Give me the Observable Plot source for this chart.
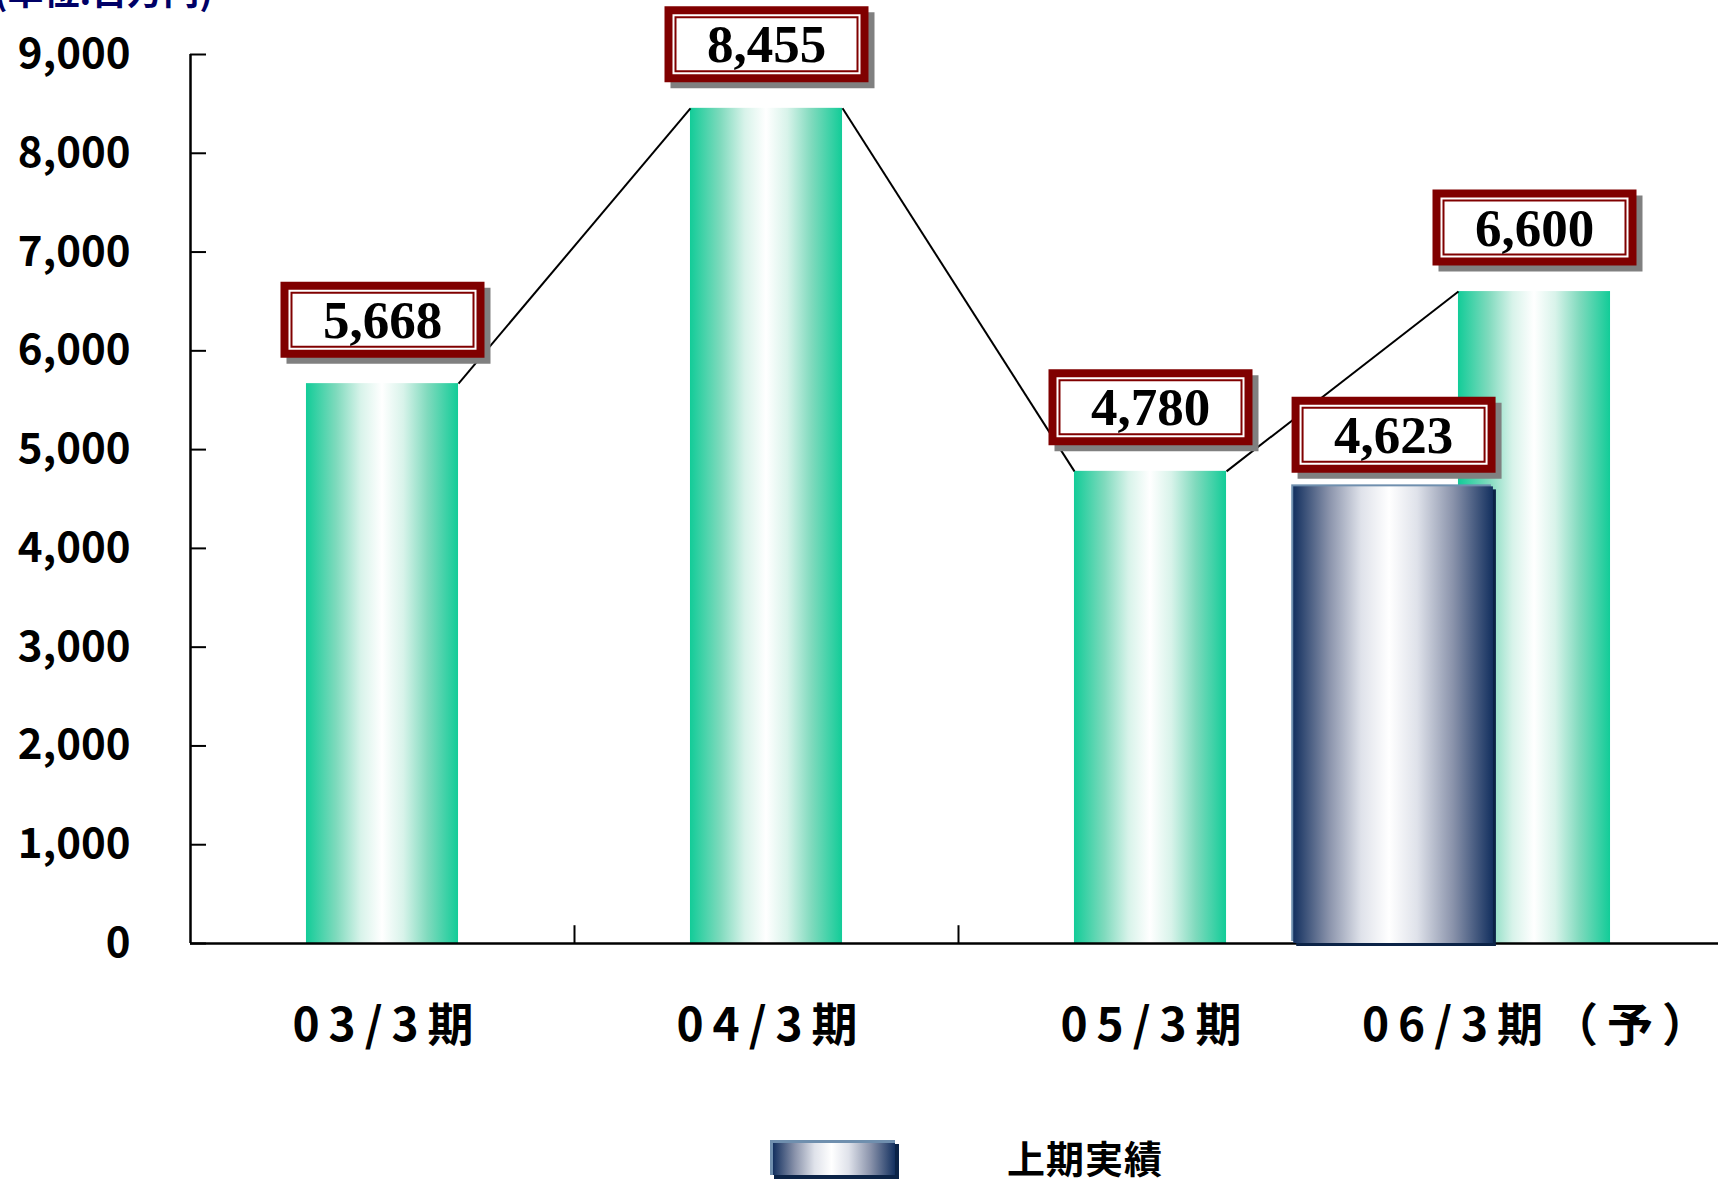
<!DOCTYPE html>
<html><head><meta charset="utf-8">
<script src="https://cdn.jsdelivr.net/npm/d3@7"></script>
<script src="https://cdn.jsdelivr.net/npm/@observablehq/plot@0.6"></script>
<style>
body{margin:0;background:#fff;overflow:hidden;width:1718px;height:1181px;position:relative;font-family:"Noto Sans CJK JP",sans-serif}
#unit{position:absolute;left:-6px;top:-29px;font-size:36px;font-weight:bold;color:#000066;line-height:36px;white-space:nowrap}
#chart{position:absolute;left:0;top:0}
#legend{position:absolute;left:770px;top:1139px;height:36px;display:flex;align-items:center}
#legend .sw{width:122px;height:32px;background:linear-gradient(to right,#13305f 0%,#8a93ab 18%,#dfe2ea 34%,#ffffff 48%,#dfe2ea 62%,#8a93ab 80%,#13305f 100%);border-top:3px solid #6f8fae;border-left:3px solid #6f8fae;box-shadow:4px 4px 0 #0b2347}
#legend .lb{margin-left:112px;font-size:38px;font-weight:bold;color:#000;letter-spacing:1px;line-height:36px}
</style></head>
<body>
<div id="chart"></div>
<div id="unit">(単位:百万円)</div>
<div id="legend"><div class="sw"></div><div class="lb">上期実績</div></div>
<script>
const categories = ["03/3期", "04/3期", "05/3期", "06/3期（予）"];
const fullYear = [5668, 8455, 4780, 6600];
const firstHalf = [null, null, null, 4623];
const yTicks = [0, 1000, 2000, 3000, 4000, 5000, 6000, 7000, 8000, 9000];
const legendLabel = "上期実績";

const hw = 0.198;          // half bar width in band units
const blueOffset = -0.367; // first-half bar offset from band centre
const blueHalf = 0.26;
const fmt = d3.format(",");

const full = categories.map((c, i) => ({i, c, v: fullYear[i]}));
const half = categories.map((c, i) => ({i, c, v: firstHalf[i]})).filter(d => d.v != null);
const links = full.slice(0, -1).map((d, i) => ({x1: i + 0.5 + hw, y1: d.v, x2: i + 1.5 - hw, y2: full[i + 1].v}));

function rectSymbol(w, h) {
  return {draw(ctx) { ctx.moveTo(-w/2, -h/2); ctx.lineTo(w/2, -h/2); ctx.lineTo(w/2, h/2); ctx.lineTo(-w/2, h/2); ctx.closePath(); }};
}
function labelBox(data, xf, dyv) {
  const base = {x: xf, y: "v", r: 10, stroke: "none"};
  return [
    Plot.dot(data, {...base, symbol: rectSymbol(204, 76), fill: "#808080", dx: 6, dy: dyv + 6}),
    Plot.dot(data, {...base, symbol: rectSymbol(204, 76), fill: "#800000", dy: dyv}),
    Plot.dot(data, {...base, symbol: rectSymbol(188, 60), fill: "#ffffff", dy: dyv}),
    Plot.dot(data, {...base, symbol: rectSymbol(184, 56), fill: "#800000", dy: dyv}),
    Plot.dot(data, {...base, symbol: rectSymbol(180, 52), fill: "#ffffff", dy: dyv}),
    Plot.text(data, {x: xf, y: "v", dy: dyv + 1, text: d => fmt(d.v), fontFamily: "Liberation Serif", fontWeight: "bold", fontSize: 53, fill: "#000"})
  ];
}

const defs = () => {
  const g = document.createElementNS("http://www.w3.org/2000/svg", "g");
  g.innerHTML = `<defs>
    <linearGradient id="gGreen" x1="0" x2="1" y1="0" y2="0">
      <stop offset="0" stop-color="#12cc98"/>
      <stop offset="0.2" stop-color="#7fdabd"/>
      <stop offset="0.36" stop-color="#d8f3ea"/>
      <stop offset="0.5" stop-color="#ffffff"/>
      <stop offset="0.64" stop-color="#d8f3ea"/>
      <stop offset="0.8" stop-color="#7fdabd"/>
      <stop offset="1" stop-color="#12cc98"/>
    </linearGradient>
    <linearGradient id="gBlue" x1="0" x2="1" y1="0" y2="0">
      <stop offset="0" stop-color="#13305f"/>
      <stop offset="0.18" stop-color="#8a93ab"/>
      <stop offset="0.34" stop-color="#dfe2ea"/>
      <stop offset="0.48" stop-color="#ffffff"/>
      <stop offset="0.62" stop-color="#dfe2ea"/>
      <stop offset="0.8" stop-color="#8a93ab"/>
      <stop offset="1" stop-color="#13305f"/>
    </linearGradient></defs>`;
  return g;
};

const chart = Plot.plot({
  width: 1718,
  height: 1130,
  marginTop: 54,
  marginBottom: 187,
  marginLeft: 190,
  marginRight: -8,
  style: {background: "#fff", fontFamily: "'Noto Sans CJK JP', sans-serif"},
  x: {type: "linear", domain: [0, 4], axis: null},
  y: {domain: [0, 9000], axis: null},
  marks: [
    defs,
    Plot.rect(full, {x1: d => d.i + 0.5 - hw, x2: d => d.i + 0.5 + hw, y1: 0, y2: "v", fill: "url(#gGreen)"}),
    Plot.ruleY([0], {stroke: "#000", strokeWidth: 2.5}),
    Plot.ruleX([0], {stroke: "#000", strokeWidth: 2.5}),
    Plot.ruleY(yTicks, {x1: 0, x2: 16 / 384, stroke: "#000", strokeWidth: 2}),
    Plot.ruleX([1, 2, 3], {y1: 0, y2: 180, stroke: "#000", strokeWidth: 2}),
    Plot.rect(half, {x1: d => d.i + 0.5 + blueOffset - blueHalf, x2: d => d.i + 0.5 + blueOffset + blueHalf, y1: 0, y2: "v", fill: "#6f8fae", dx: -2, dy: -2}),
    Plot.rect(half, {x1: d => d.i + 0.5 + blueOffset - blueHalf, x2: d => d.i + 0.5 + blueOffset + blueHalf, y1: 0, y2: "v", fill: "#0b2347", dx: 3, dy: 3}),
    Plot.rect(half, {x1: d => d.i + 0.5 + blueOffset - blueHalf, x2: d => d.i + 0.5 + blueOffset + blueHalf, y1: 0, y2: "v", fill: "url(#gBlue)"}),
    Plot.link(links, {x1: "x1", y1: "y1", x2: "x2", y2: "y2", stroke: "#000", strokeWidth: 2}),
    Plot.text(yTicks, {y: d => d, frameAnchor: "left", dx: -60, textAnchor: "end", text: d => fmt(d), fontSize: 42, fontWeight: "bold", fill: "#000", fontFamily: "'Noto Sans CJK JP', sans-serif"}),
    Plot.text(full, {x: d => d.i + 0.5, frameAnchor: "bottom", dy: 97, dx: 5, text: "c", fontSize: 46, fontWeight: "bold", fill: "#000", fontFamily: "'Noto Sans CJK JP', sans-serif"}),
    ...labelBox(full, d => d.i + 0.5, -64),
    ...labelBox(half, d => d.i + 0.5 + blueOffset, -52)
  ]
});
// widen the spacing of the category labels
chart.querySelectorAll('g[font-size="46"]').forEach(g => g.setAttribute("letter-spacing", "9"));
document.getElementById("chart").appendChild(chart);
</script>
</body></html>
